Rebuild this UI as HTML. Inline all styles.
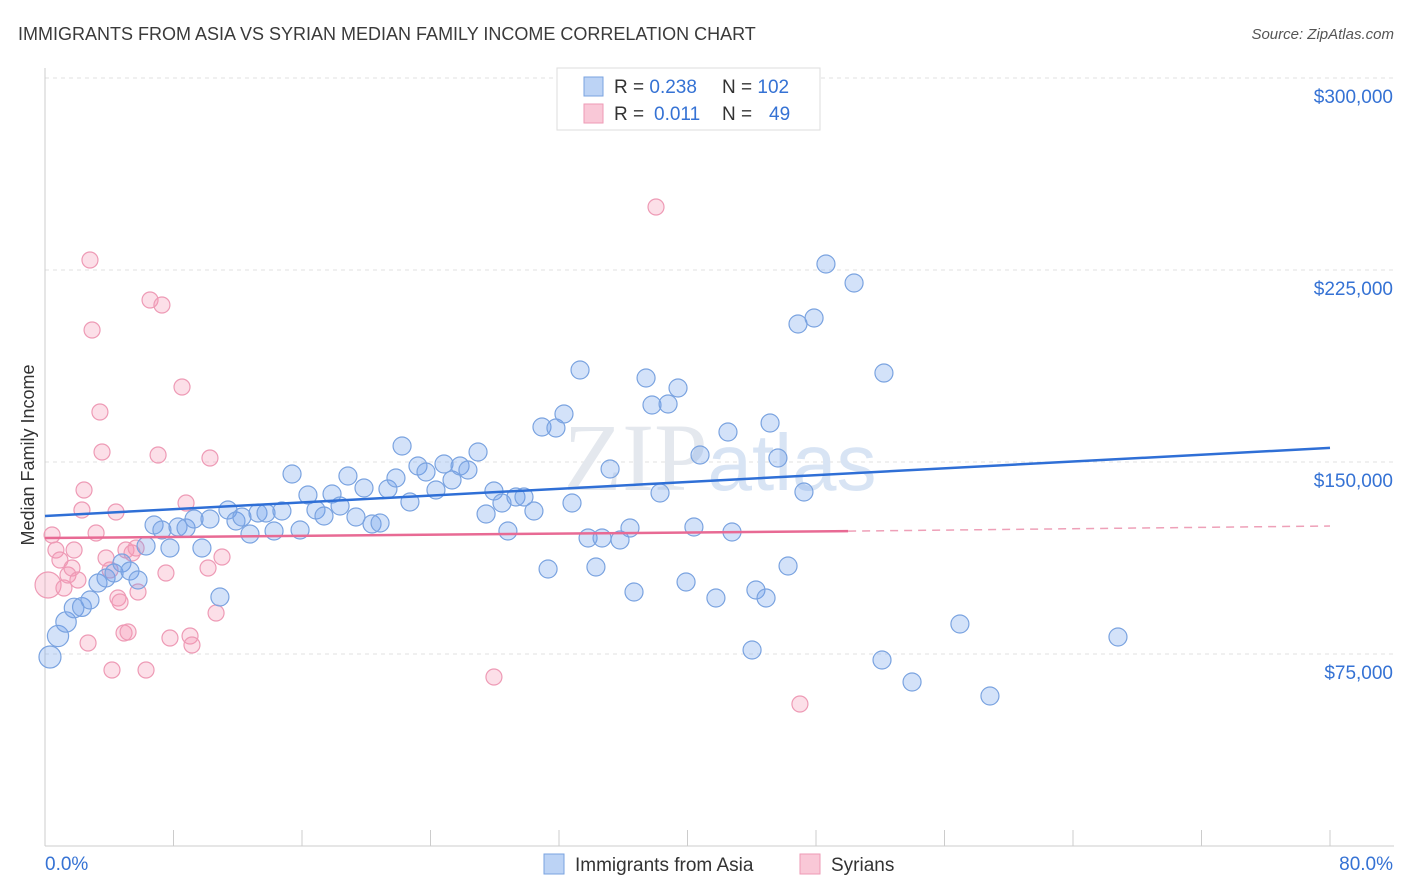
<!DOCTYPE html>
<html><head><meta charset="utf-8"><style>
body{margin:0;background:#fff;font-family:"Liberation Sans",sans-serif}
svg{display:block}
</style></head><body>
<svg id="chart" width="1406" height="892">
<text x="18" y="40" font-size="18" fill="#3a3a3a">IMMIGRANTS FROM ASIA VS SYRIAN MEDIAN FAMILY INCOME CORRELATION CHART</text>
<text x="1394" y="39" font-size="15" fill="#555" font-style="italic" text-anchor="end">Source: ZipAtlas.com</text>
<g id="grid"></g>
<text x="720" y="490" font-size="96" fill="#e4e8ee" text-anchor="middle" font-family="Liberation Serif,serif">ZIP<tspan fill="#d8e4f4" font-family="Liberation Sans,sans-serif" font-size="80">atlas</tspan></text>
<g id="ticks"></g>
<g id="pts"></g>
<g id="trends"></g>
<text x="34" y="455" font-size="18" fill="#333" text-anchor="middle" transform="rotate(-90 34 455)">Median Family Income</text>
<g>
<rect x="557" y="68" width="263" height="62" fill="#fff" stroke="#ddd"/>
<rect x="584" y="77" width="19" height="19" fill="#bcd3f5" stroke="#7aa3e0"/>
<rect x="584" y="104" width="19" height="19" fill="#f9c8d7" stroke="#ee9ab5"/>
<text x="614" y="93" font-size="19" fill="#333">R = <tspan fill="#3572d4">0.238</tspan><tspan x="722">N = </tspan><tspan fill="#3572d4">102</tspan></text>
<text x="614" y="120" font-size="19" fill="#333">R = <tspan x="654" fill="#3572d4">0.011</tspan><tspan x="722">N = </tspan><tspan x="769" fill="#3572d4">49</tspan></text>
</g>
<g>
<rect x="544" y="854" width="20" height="20" fill="#bcd3f5" stroke="#7aa3e0"/>
<text x="575" y="871" font-size="19" fill="#333">Immigrants from Asia</text>
<rect x="800" y="854" width="20" height="20" fill="#f9c8d7" stroke="#ee9ab5"/>
<text x="831" y="871" font-size="19" fill="#333">Syrians</text>
</g>
</svg>
<script>
const yTicks=[75000,150000,225000,300000];
const yTickLabels=["$75,000","$150,000","$225,000","$300,000"];
const xTickLabels=["0.0%","80.0%"];
const bluePx=[[50,657],[58,636],[66,622],[74,608],[82,607],[90,600],[98,583],[106,578],[114,573],[122,563],[130,571],[138,580],[146,546],[154,525],[162,530],[170,548],[178,527],[186,528],[194,519],[202,548],[210,519],[220,597],[228,510],[236,521],[242,517],[250,534],[258,513],[266,513],[274,531],[282,511],[292,474],[300,530],[308,495],[316,510],[324,516],[332,494],[340,506],[348,476],[356,517],[364,488],[372,524],[380,523],[388,489],[396,478],[402,446],[410,502],[418,466],[426,472],[436,490],[444,464],[452,480],[460,466],[468,470],[478,452],[486,514],[494,491],[502,503],[508,531],[516,497],[524,497],[534,511],[542,427],[548,569],[556,428],[564,414],[572,503],[580,370],[588,538],[596,567],[602,538],[610,469],[620,540],[630,528],[634,592],[646,378],[652,405],[660,493],[668,404],[678,388],[686,582],[694,527],[700,455],[716,598],[728,432],[732,532],[752,650],[756,590],[766,598],[770,423],[778,458],[788,566],[798,324],[804,492],[814,318],[826,264],[854,283],[882,660],[884,373],[912,682],[960,624],[990,696],[1118,637]];
const pinkPx=[[48,585],[52,535],[56,550],[60,560],[64,588],[68,575],[72,568],[74,550],[78,580],[82,510],[84,490],[88,643],[90,260],[92,330],[96,533],[100,412],[102,452],[106,558],[110,570],[112,670],[116,512],[118,598],[120,602],[124,633],[126,550],[128,632],[132,553],[136,548],[138,592],[146,670],[150,300],[158,455],[162,305],[166,573],[170,638],[182,387],[186,503],[190,636],[192,645],[208,568],[210,458],[216,613],[222,557],[494,677],[656,207],[800,704]];
// data arrays (x in %, y in $) derived from reading the picture
const asiaX=bluePx.map(p=>+((p[0]-45)*80/1285).toFixed(2));
const asiaY=bluePx.map(p=>Math.round(150000-(p[1]-462)*390.625));
const syrX=pinkPx.map(p=>+((p[0]-45)*80/1285).toFixed(2));
const syrY=pinkPx.map(p=>Math.round(150000-(p[1]-462)*390.625));
const asiaTrend=[128900,155500];
const syrTrend=[120300,123000,125000];
const X=v=>45+v*1285/80, Y=v=>462-(v-150000)*192/75000;
const NS="http://www.w3.org/2000/svg";
function mk(t,a,p){const e=document.createElementNS(NS,t);for(const k in a)e.setAttribute(k,a[k]);p.appendChild(e);return e;}
const grid=document.getElementById('grid'),ticks=document.getElementById('ticks');
yTicks.forEach((v,i)=>{
 const l=mk('line',{x1:45,x2:1394,y1:Y(v),y2:Y(v),stroke:'#e2e2e2','stroke-dasharray':'4,4'},grid);
 
 
 const t=mk('text',{x:1393,y:Y(v)+25,'font-size':19,fill:'#3572d4','text-anchor':'end'},ticks);
 t.textContent=yTickLabels[i];
 
 
});
mk('line',{x1:45,x2:45,y1:68,y2:846,stroke:'#ccc'},ticks);
mk('line',{x1:45,x2:1394,y1:846,y2:846,stroke:'#ccc'},ticks);
for(let i=0;i<=10;i++){const x=X(i*8);mk('line',{x1:x,x2:x,y1:830,y2:846,stroke:'#ccc'},ticks);}
const t0=mk('text',{x:45,y:870,'font-size':19,fill:'#3572d4'},ticks);t0.textContent=xTickLabels[0];


const t1=mk('text',{x:1393,y:870,'font-size':19,fill:'#3572d4','text-anchor':'end'},ticks);t1.textContent=xTickLabels[1];


const pts=document.getElementById('pts');
syrX.forEach((x,i)=>{const c=mk('circle',{cx:X(x),cy:Y(syrY[i]),r:i==0?13:8,fill:'rgba(244,150,180,0.3)',stroke:'#ee9ab5','stroke-width':1.2},pts);
 
 });
asiaX.forEach((x,i)=>{const c=mk('circle',{cx:X(x),cy:Y(asiaY[i]),r:i<6?11-i*0.4:9,fill:'rgba(110,160,235,0.3)',stroke:'#7aa3e0','stroke-width':1.2},pts);
 
 });
const tr=document.getElementById('trends');
const b=mk('line',{x1:X(0),y1:Y(asiaTrend[0]),x2:X(80),y2:Y(asiaTrend[1]),stroke:'#2f6fd6','stroke-width':2.5},tr);


const p1=mk('line',{x1:X(0),y1:Y(syrTrend[0]),x2:X(50),y2:Y(syrTrend[1]),stroke:'#e86a94','stroke-width':2.5},tr);


const p2=mk('line',{x1:X(50),y1:Y(syrTrend[1]),x2:X(80),y2:Y(syrTrend[2]),stroke:'#eea0b8','stroke-width':1.5,'stroke-dasharray':'8,6'},tr);


</script>
</body></html>
